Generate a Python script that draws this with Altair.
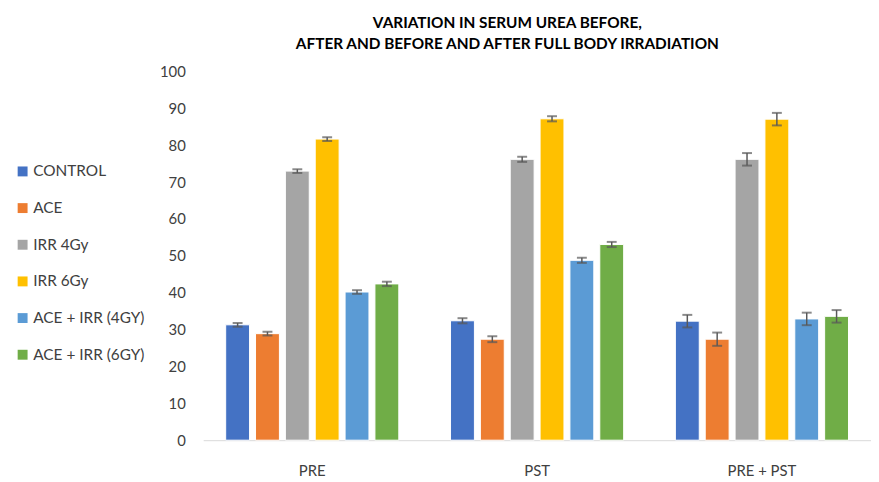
import altair as alt
import pandas as pd

groups = ["PRE", "PST", "PRE + PST"]
series = ["CONTROL", "ACE", "IRR 4Gy", "IRR 6Gy", "ACE + IRR (4GY)", "ACE + IRR (6GY)"]
colors = ["#4472C4", "#ED7D31", "#A5A5A5", "#FFC000", "#5B9BD5", "#70AD47"]

values = {
    "PRE":       [31.3, 28.9, 73.0, 81.7, 40.2, 42.4],
    "PST":       [32.4, 27.4, 76.2, 87.2, 48.8, 53.1],
    "PRE + PST": [32.3, 27.4, 76.2, 87.1, 32.9, 33.6],
}
errors = {
    "PRE":       [0.5, 0.5, 0.5, 0.5, 0.5, 0.6],
    "PST":       [0.7, 0.8, 0.7, 0.7, 0.7, 0.7],
    "PRE + PST": [1.7, 1.8, 1.7, 1.7, 1.7, 1.7],
}
y_ticks = [0, 10, 20, 30, 40, 50, 60, 70, 80, 90, 100]

rows = []
for g in groups:
    for s, v, e in zip(series, values[g], errors[g]):
        rows.append({"group": g, "series": s, "value": v, "lo": v - e, "hi": v + e})
df = pd.DataFrame(rows)

font = "Lato"
x = alt.X("group:N", sort=groups, title=None,
          scale=alt.Scale(paddingInner=0.23, paddingOuter=0.1, round=False),
          axis=alt.Axis(labelAngle=0, ticks=False, domainColor="#D9D9D9", labelFontSize=15,
                        labelColor="#404040", labelPadding=24, labelFont=font))
xo = alt.XOffset("series:N", sort=series, scale=alt.Scale(paddingInner=0.2, round=False))
yscale = alt.Scale(domain=[0, 100], nice=False)
yaxis = alt.Axis(values=y_ticks, labelOverlap=False, domain=False, ticks=False,
                 grid=False, labelFontSize=15, labelColor="#404040", labelPadding=18, labelFont=font)

bars = alt.Chart(df).mark_bar(stroke="white", strokeWidth=1).encode(
    x=x, xOffset=xo,
    y=alt.Y("value:Q", scale=yscale, title=None, axis=yaxis),
    color=alt.Color("series:N", sort=series, scale=alt.Scale(domain=series, range=colors),
                    legend=alt.Legend(title=None, orient="none", legendX=-190, legendY=93,
                                      symbolType="square", symbolSize=100, symbolStrokeWidth=0,
                                      labelFontSize=15.5, labelFont=font, labelColor="#404040",
                                      rowPadding=20, labelOffset=3)),
)

rules = alt.Chart(df).mark_rule(color="#595959", strokeWidth=1.5).encode(
    x=x, xOffset=xo, y=alt.Y("lo:Q", scale=yscale, axis=None), y2="hi:Q")
caps_lo = alt.Chart(df).mark_tick(color="#595959", thickness=2, size=10).encode(
    x=x, xOffset=xo, y=alt.Y("lo:Q", scale=yscale, axis=None))
caps_hi = alt.Chart(df).mark_tick(color="#595959", thickness=2, size=10).encode(
    x=x, xOffset=xo, y=alt.Y("hi:Q", scale=yscale, axis=None))

chart = alt.layer(bars, rules, caps_lo, caps_hi).resolve_axis(y="independent").properties(
    width=674, height=372,
    autosize=alt.AutoSizeParams(type="none"),
    padding={"left": 197, "top": 62, "right": 0, "bottom": 40},
    title=alt.TitleParams(
        ["VARIATION  IN SERUM UREA BEFORE,", "AFTER AND BEFORE AND AFTER FULL BODY IRRADIATION"],
        fontSize=15.5, font=font, fontWeight="bold", color="#000000", anchor="middle",
        lineHeight=22, offset=12, dx=-30),
).configure_view(stroke=None)

chart.save("out.html", embed_options={"renderer": "svg", "actions": False})
